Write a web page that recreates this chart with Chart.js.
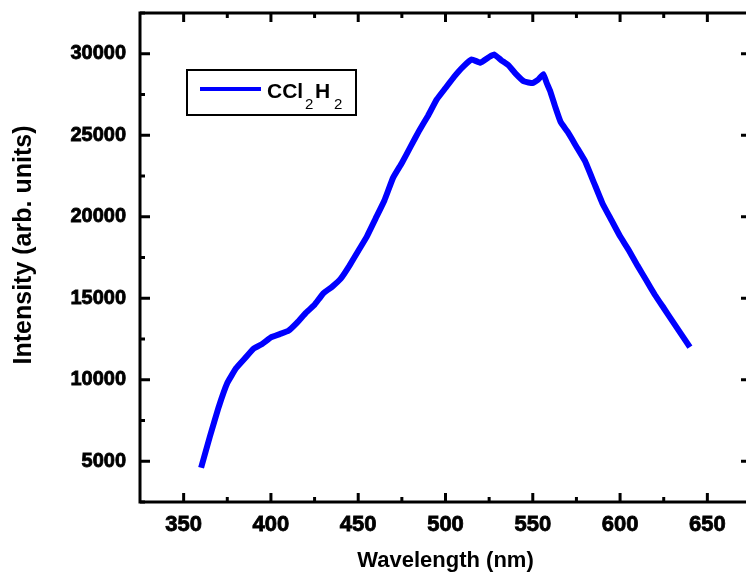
<!DOCTYPE html>
<html>
<head>
<meta charset="utf-8">
<script src="https://cdn.jsdelivr.net/npm/chart.js@4.4.1/dist/chart.umd.min.js"></script>
<style>
  html, body { margin: 0; padding: 0; background: #fff; overflow: hidden; }
</style>
</head>
<body>
<canvas id="spectrum" width="756" height="578"></canvas>
<script>
// wavelength (nm) and emission intensity
const wavelength = [
  360, 365, 370, 375, 380, 385, 390, 395, 400, 405,
  410, 415, 420, 425, 430, 435, 440, 445, 450, 455,
  460, 465, 470, 475, 480, 485, 490, 495, 500, 505,
  510, 515, 520, 525, 528, 532, 536, 540, 545, 550,
  553, 556, 558, 560, 563, 566, 570, 575, 580, 585,
  590, 595, 600, 605, 610, 615, 620, 625, 630, 635,
  640
];
const intensity = [
  4600, 6500, 8300, 9800, 10700, 11300, 11900, 12200, 12600, 12800,
  13000, 13500, 14100, 14600, 15300, 15700, 16200, 17000, 17900, 18800,
  19900, 21000, 22400, 23300, 24300, 25300, 26200, 27200, 27900, 28600,
  29200, 29650, 29450, 29800, 29950, 29600, 29300, 28800, 28300, 28200,
  28400, 28750, 28200, 27700, 26700, 25800, 25200, 24300, 23400, 22100,
  20800, 19800, 18800, 17950, 17000, 16100, 15200, 14400, 13600, 12800,
  12000
];
const seriesLabel = 'CCl2H2';
const xTitle = 'Wavelength (nm)';
const yTitle = 'Intensity (arb. units)';

// axis ticks
const xTicks = [350, 400, 450, 500, 550, 600, 650];
const xMinorTicks = [375, 425, 475, 525, 575, 625];
const yTicks = [5000, 10000, 15000, 20000, 25000, 30000];
const yMinorTicks = [2500, 7500, 12500, 17500, 22500, 27500, 32500];

const FONT = '"Liberation Sans", Arial, sans-serif';

// frame + inward ticks on all four sides (Origin style)
const frameTicks = {
  id: 'frameTicks',
  afterDraw(chart) {
    const { ctx, chartArea: a, scales: { x, y } } = chart;
    ctx.save();
    ctx.strokeStyle = '#000';
    const seg = (x1, y1, x2, y2, w) => {
      ctx.lineWidth = w;
      ctx.beginPath(); ctx.moveTo(x1, y1); ctx.lineTo(x2, y2); ctx.stroke();
    };
    xTicks.forEach(v => {
      const px = x.getPixelForValue(v);
      seg(px, a.bottom, px, a.bottom - 9, 3);
      seg(px, a.top, px, a.top + 9, 3);
    });
    xMinorTicks.forEach(v => {
      const px = x.getPixelForValue(v);
      seg(px, a.bottom, px, a.bottom - 5, 3);
      seg(px, a.top, px, a.top + 5, 3);
    });
    yTicks.forEach(v => {
      const py = y.getPixelForValue(v);
      seg(a.left, py, a.left + 10, py, 3);
      seg(a.right, py, a.right - 10, py, 3);
    });
    yMinorTicks.forEach(v => {
      const py = y.getPixelForValue(v);
      seg(a.left, py, a.left + 5, py, 3);
      seg(a.right, py, a.right - 5, py, 3);
    });
    ctx.lineWidth = 3;
    ctx.strokeRect(a.left, a.top, a.right - a.left, a.bottom - a.top);

    // rotated y-axis title, sits a little above the middle of the axis
    ctx.save();
    ctx.translate(24, 245);
    ctx.rotate(-Math.PI / 2);
    ctx.font = 'bold 25px ' + FONT;
    ctx.fillStyle = '#000';
    ctx.textAlign = 'center';
    ctx.textBaseline = 'middle';
    ctx.fillText(yTitle, 0, 0);
    ctx.restore();

    ctx.restore();
  }
};

// legend box with subscripts, drawn as canvas text
const legendBox = {
  id: 'legendBox',
  afterDraw(chart) {
    const { ctx } = chart;
    ctx.save();
    ctx.fillStyle = '#fff';
    ctx.fillRect(187, 70, 169, 45);
    ctx.strokeStyle = '#000';
    ctx.lineWidth = 2;
    ctx.strokeRect(187, 70, 169, 45);
    ctx.strokeStyle = '#0000ff';
    ctx.lineWidth = 4;
    ctx.beginPath(); ctx.moveTo(200, 89); ctx.lineTo(261, 89); ctx.stroke();

    ctx.fillStyle = '#000';
    ctx.textBaseline = 'alphabetic';
    const big = 'bold 21px ' + FONT;
    const small = '15px ' + FONT;
    const parts = [['CCl', big, 267, 98], ['2', small, 305, 109], ['H', big, 315, 98], ['2', small, 334, 109]];
    parts.forEach(([t, f, px, by]) => {
      ctx.font = f;
      ctx.fillText(t, px, by);
    });
    ctx.restore();
  }
};

const points = wavelength.map((w, i) => ({ x: w, y: intensity[i] }));

new Chart(document.getElementById('spectrum'), {
  type: 'scatter',
  data: {
    datasets: [{
      label: seriesLabel,
      data: points,
      showLine: true,
      borderColor: '#0000ff',
      backgroundColor: '#0000ff',
      borderWidth: 6,
      pointRadius: 0,
      tension: 0.1
    }]
  },
  options: {
    responsive: false,
    animation: false,
    layout: { padding: { top: 13, right: 5, left: 0, bottom: 0 } },
    plugins: {
      legend: { display: false },
      tooltip: { enabled: false }
    },
    scales: {
      x: {
        type: 'linear',
        min: 325,
        max: 675,
        afterBuildTicks: s => { s.ticks = xTicks.map(v => ({ value: v })); },
        afterFit: s => { s.height = 76; s.paddingLeft = 0; s.paddingRight = 0; },
        grid: { display: false, drawTicks: false },
        border: { display: false },
        ticks: {
          color: '#000',
          padding: 10,
          maxRotation: 0,
          callback: v => String(v),
          font: { family: FONT, size: 22, weight: 'bold' },
          textStrokeColor: '#000',
          textStrokeWidth: 0.8
        },
        title: {
          display: true,
          text: xTitle,
          color: '#000',
          font: { family: FONT, size: 22, weight: 'bold' },
          padding: { top: 0, bottom: 4 }
        }
      },
      y: {
        min: 2500,
        max: 32500,
        afterBuildTicks: s => { s.ticks = yTicks.map(v => ({ value: v })); },
        afterFit: s => { s.width = 140; s.paddingTop = 0; s.paddingBottom = 0; },
        grid: { display: false, drawTicks: false },
        border: { display: false },
        ticks: {
          color: '#000',
          padding: 14,
          callback: v => String(v),
          font: { family: FONT, size: 20, weight: 'bold' },
          textStrokeColor: '#000',
          textStrokeWidth: 0.8
        }
      }
    }
  },
  plugins: [frameTicks, legendBox]
});
</script>
</body>
</html>
